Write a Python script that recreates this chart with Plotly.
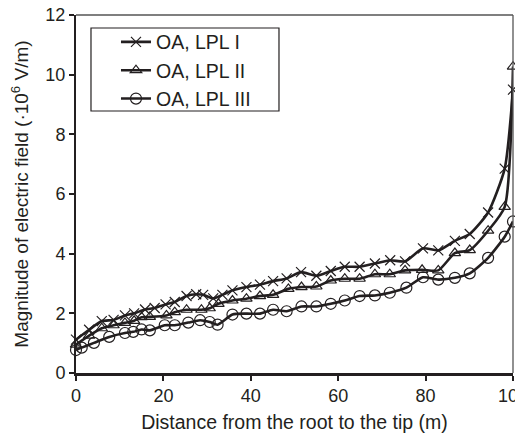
import plotly.graph_objects as go

# Series I (OA, LPL I)
x1 = [0, 3.0, 5.9, 8.6, 11.2, 13.3, 15.8, 18.0, 20.5, 22.6, 25.3, 27.5, 29.1, 31.4, 33.5, 35.8,
      39.0, 42.1, 45.1, 48.2, 51.5, 55.0, 58.3, 61.5, 64.9, 68.4, 71.9, 75.3, 79.4, 82.9,
      86.7, 90.1, 94.3, 98.1, 100]
y1 = [1.12, 1.45, 1.74, 1.78, 1.93, 2.0, 2.13, 2.18, 2.3, 2.38, 2.58, 2.64, 2.62, 2.5, 2.62, 2.77,
      2.88, 2.96, 3.08, 3.17, 3.38, 3.26, 3.42, 3.56, 3.56, 3.67, 3.78, 3.74, 4.18, 4.11,
      4.43, 4.66, 5.38, 6.85, 9.5]

# Series II (OA, LPL II)
x2 = [0, 3.0, 5.9, 8.6, 11.2, 13.3, 15.0, 16.9, 20.7, 22.6, 25.3, 28.7, 30.6, 32.6, 35.8,
      39.0, 42.1, 45.1, 48.6, 51.6, 55.0, 58.3, 61.5, 64.9, 68.4, 71.8, 75.3, 79.2, 82.9,
      86.7, 90.1, 94.3, 98.1, 100]
y2 = [0.95, 1.25, 1.5, 1.6, 1.68, 1.75, 1.87, 1.88, 1.93, 2.04, 2.12, 2.12, 2.17, 2.32, 2.43,
      2.49, 2.58, 2.62, 2.82, 2.88, 2.9, 3.1, 3.16, 3.16, 3.31, 3.31, 3.44, 3.46, 3.44,
      4.02, 4.12, 4.77, 5.57, 10.27]

# Series III (OA, LPL III)
x3 = [0, 1.3, 4.1, 7.6, 11.2, 13.1, 15.0, 16.9, 20.3, 22.6, 25.7, 28.4, 30.6, 32.4, 35.8,
      39.0, 42.1, 45.1, 48.2, 51.6, 55.0, 58.3, 61.5, 64.9, 68.4, 71.8, 75.6, 79.4, 82.9,
      86.7, 90.1, 94.3, 98.1, 100]
y3 = [0.77, 0.85, 1.01, 1.21, 1.34, 1.38, 1.46, 1.43, 1.6, 1.6, 1.69, 1.77, 1.71, 1.62, 1.96,
      1.99, 1.99, 2.12, 2.07, 2.23, 2.23, 2.32, 2.43, 2.58, 2.6, 2.69, 2.86, 3.21, 3.13,
      3.19, 3.34, 3.86, 4.57, 5.08]

names = ["OA, LPL I", "OA, LPL II", "OA, LPL III"]
symbols = ["x-thin-open", "triangle-up-open", "circle-open"]
sizes = [10, 10, 11]

FONT = "Liberation Sans, Arial, sans-serif"
INK = "#231f20"

fig = go.Figure()
for xs, ys, nm, sym, sz in zip([x1, x2, x3], [y1, y2, y3], names, symbols, sizes):
    fig.add_trace(go.Scatter(
        x=xs, y=ys, name=nm, mode="lines+markers",
        line=dict(color=INK, width=2.6, shape="spline", smoothing=0.6),
        marker=dict(symbol=sym, size=sz, color=INK, line=dict(color=INK, width=1.2)),
        cliponaxis=False,
    ))

# the page body has an 8px margin, so the figure is 8px smaller than the window
fig.update_layout(
    width=515, height=425,
    margin=dict(l=68, r=10, t=7, b=60, autoexpand=False),
    paper_bgcolor="white", plot_bgcolor="white",
    font=dict(family=FONT, size=18, color=INK),
    showlegend=True,
    legend=dict(
        x=0.0915, y=0.9785, xanchor="left", yanchor="top",
        borderwidth=0, bgcolor="rgba(0,0,0,0)",
        font=dict(family=FONT, size=19.5, color=INK),
        tracegroupgap=0, itemwidth=30,
    ),
)

fig.update_xaxes(
    range=[0, 100], tickvals=[0, 20, 40, 60, 80, 100],
    showline=True, linecolor=INK, linewidth=2.5, mirror=False,
    ticks="outside", ticklen=5, tickwidth=1.5, tickcolor=INK,
    showgrid=False, zeroline=False, automargin=False,
    ticklabeloverflow="allow", ticklabelstandoff=0,
    tickfont=dict(family=FONT, size=18, color=INK),
    title=dict(text="Distance from the root to the tip (m)",
               font=dict(family=FONT, size=19.5, color=INK), standoff=12),
)
fig.update_yaxes(
    range=[0, 12], tickvals=[0, 2, 4, 6, 8, 10, 12],
    showline=True, linecolor=INK, linewidth=2, mirror=False,
    ticks="outside", ticklen=5, tickwidth=1.5, tickcolor=INK,
    showgrid=False, zeroline=False, automargin=False,
    ticklabeloverflow="allow",
    tickfont=dict(family=FONT, size=18, color=INK),
    title=dict(text="Magnitude of electric field (·10<sup>6</sup> V/m)",
               font=dict(family=FONT, size=19, color=INK), standoff=13),
)

# thin top and right frame lines
fig.add_shape(type="line", xref="paper", yref="paper", x0=0, x1=1, y0=1, y1=1,
              line=dict(color="#555", width=1.3))
fig.add_shape(type="line", xref="paper", yref="paper", x0=1, x1=1, y0=0, y1=1,
              line=dict(color="#555", width=1.3))
# legend frame
fig.add_shape(type="rect", xref="paper", yref="paper",
              x0=0.0343, x1=0.4645, y0=0.7318, y1=0.9637,
              line=dict(color=INK, width=1.2), fillcolor="white", layer="below")

fig.write_html("out.html")
